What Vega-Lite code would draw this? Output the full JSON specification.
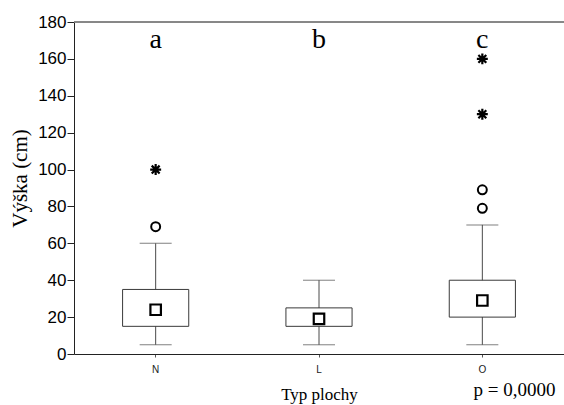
{
  "$schema": "https://vega.github.io/schema/vega-lite/v6.json",
  "width": 490,
  "height": 332,
  "autosize": "none",
  "padding": {"left": 74, "top": 22, "right": 0, "bottom": 51},
  "background": "white",
  "config": {
    "view": {"stroke": null},
    "axis": {"grid": false},
    "axisY": {
      "titleFont": "Liberation Serif",
      "titleFontSize": 21,
      "titleFontWeight": "normal",
      "titleColor": "black",
      "titlePadding": 7,
      "titleY": 156,
      "labelOverlap": false,
      "labelFont": "Liberation Sans",
      "labelFontSize": 17,
      "labelColor": "black",
      "labelPadding": 1,
      "tickSize": 7,
      "tickColor": "#222222",
      "domainColor": "#222222"
    }
  },
  "datasets": {
    "boxes": [
      {"cat": "N", "lo": 5, "q1": 15, "med": 24, "q3": 35, "hi": 60, "letter": "a"},
      {"cat": "L", "lo": 5, "q1": 15, "med": 19, "q3": 25, "hi": 40, "letter": "b"},
      {"cat": "O", "lo": 5, "q1": 20, "med": 29, "q3": 40, "hi": 70, "letter": "c"}
    ],
    "outliers": [
      {"cat": "N", "value": 69, "kind": "outlier"},
      {"cat": "N", "value": 100, "kind": "extreme"},
      {"cat": "O", "value": 79, "kind": "outlier"},
      {"cat": "O", "value": 89, "kind": "outlier"},
      {"cat": "O", "value": 130, "kind": "extreme"},
      {"cat": "O", "value": 160, "kind": "extreme"}
    ]
  },
  "title": {
    "text": "p = 0,0000",
    "orient": "bottom",
    "anchor": "end",
    "font": "Liberation Serif",
    "fontSize": 19,
    "fontWeight": "normal",
    "color": "black",
    "offset": -21,
    "dx": -9
  },
  "layer": [
    {
      "data": {"name": "boxes"},
      "mark": {"type": "rule", "color": "#4a4a4a", "strokeWidth": 1},
      "encoding": {
        "x": {
          "field": "cat",
          "type": "nominal",
          "sort": ["N", "L", "O"],
          "scale": {"type": "band", "paddingInner": 0, "paddingOuter": 0},
          "axis": {
            "title": "Typ plochy",
            "titleFont": "Liberation Serif",
            "titleFontSize": 17,
            "titleFontWeight": "normal",
            "titleColor": "black",
            "titlePadding": 12,
            "labelFont": "Liberation Sans",
            "labelFontSize": 10,
            "labelColor": "#222222",
            "labelAngle": 0,
            "labelPadding": 7,
            "tickSize": 3,
            "tickColor": "#555555",
            "domainColor": "#222222"
          }
        },
        "y": {
          "field": "lo",
          "type": "quantitative",
          "scale": {"domain": [0, 180], "nice": false, "zero": true},
          "axis": {"title": "Výška (cm)", "values": [0, 20, 40, 60, 80, 100, 120, 140, 160, 180]}
        },
        "y2": {"field": "hi"}
      }
    },
    {
      "data": {"name": "boxes"},
      "mark": {"type": "tick", "color": "#4a4a4a", "size": 32, "thickness": 1},
      "encoding": {
        "x": {"field": "cat", "type": "nominal", "sort": ["N", "L", "O"]},
        "y": {"field": "lo", "type": "quantitative", "axis": {"title": "Výška (cm)", "values": [0, 20, 40, 60, 80, 100, 120, 140, 160, 180]}}
      }
    },
    {
      "data": {"name": "boxes"},
      "mark": {"type": "tick", "color": "#4a4a4a", "size": 32, "thickness": 1},
      "encoding": {
        "x": {"field": "cat", "type": "nominal", "sort": ["N", "L", "O"]},
        "y": {"field": "hi", "type": "quantitative", "axis": {"title": "Výška (cm)", "values": [0, 20, 40, 60, 80, 100, 120, 140, 160, 180]}}
      }
    },
    {
      "data": {"name": "boxes"},
      "mark": {"type": "bar", "fill": "white", "stroke": "#3a3a3a", "strokeWidth": 1, "width": {"band": 0.405}},
      "encoding": {
        "x": {"field": "cat", "type": "nominal", "sort": ["N", "L", "O"]},
        "y": {"field": "q1", "type": "quantitative", "axis": {"title": "Výška (cm)", "values": [0, 20, 40, 60, 80, 100, 120, 140, 160, 180]}},
        "y2": {"field": "q3"}
      }
    },
    {
      "data": {"name": "boxes"},
      "mark": {"type": "point", "shape": "square", "size": 110, "filled": false, "fill": "white", "fillOpacity": 1, "stroke": "black", "strokeWidth": 2.2, "opacity": 1},
      "encoding": {
        "x": {"field": "cat", "type": "nominal", "sort": ["N", "L", "O"]},
        "y": {"field": "med", "type": "quantitative", "axis": {"title": "Výška (cm)", "values": [0, 20, 40, 60, 80, 100, 120, 140, 160, 180]}}
      }
    },
    {
      "data": {"name": "outliers"},
      "transform": [{"filter": "datum.kind == 'outlier'"}],
      "mark": {"type": "point", "shape": "circle", "size": 80, "filled": false, "stroke": "black", "strokeWidth": 2, "opacity": 1},
      "encoding": {
        "x": {"field": "cat", "type": "nominal", "sort": ["N", "L", "O"]},
        "y": {"field": "value", "type": "quantitative", "axis": {"title": "Výška (cm)", "values": [0, 20, 40, 60, 80, 100, 120, 140, 160, 180]}}
      }
    },
    {
      "data": {"name": "outliers"},
      "transform": [{"filter": "datum.kind == 'extreme'"}],
      "mark": {"type": "point", "shape": "M-1,0L1,0M0,-1L0,1M-0.72,-0.72L0.72,0.72M-0.72,0.72L0.72,-0.72", "size": 120, "filled": false, "stroke": "black", "strokeWidth": 2.2, "opacity": 1},
      "encoding": {
        "x": {"field": "cat", "type": "nominal", "sort": ["N", "L", "O"]},
        "y": {"field": "value", "type": "quantitative", "axis": {"title": "Výška (cm)", "values": [0, 20, 40, 60, 80, 100, 120, 140, 160, 180]}}
      }
    },
    {
      "data": {"name": "boxes"},
      "mark": {"type": "text", "font": "Liberation Serif", "fontSize": 28, "color": "black", "baseline": "alphabetic", "align": "center"},
      "encoding": {
        "x": {"field": "cat", "type": "nominal", "sort": ["N", "L", "O"]},
        "y": {"datum": 166, "type": "quantitative", "axis": {"title": "Výška (cm)", "values": [0, 20, 40, 60, 80, 100, 120, 140, 160, 180]}},
        "text": {"field": "letter"}
      }
    },
    {
      "data": {"name": "boxes"},
      "mark": {"type": "rule", "color": "#777777", "strokeWidth": 1},
      "encoding": {"y": {"datum": 180, "type": "quantitative", "axis": {"title": "Výška (cm)", "values": [0, 20, 40, 60, 80, 100, 120, 140, 160, 180]}}}
    }
  ]
}
